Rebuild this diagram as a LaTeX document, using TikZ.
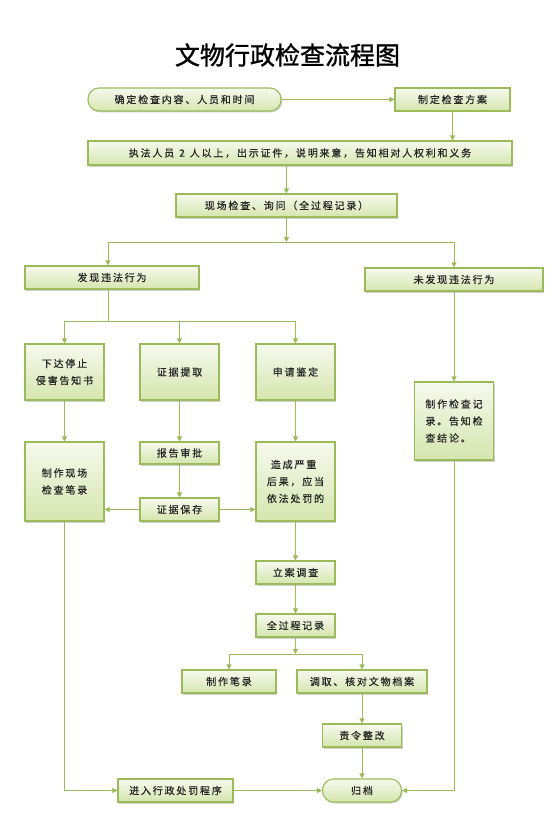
\documentclass[tikz,border=0pt]{standalone}
\usepackage{fontspec}
\setmainfont{Noto Sans CJK SC}
\newfontfamily\cjk[LetterSpace=18,FakeBold=0.6]{Noto Sans CJK SC}
\newfontfamily\cjktitle[FakeBold=1.2]{Noto Sans CJK SC}
\usetikzlibrary{arrows.meta,shadows}
\definecolor{bd}{HTML}{9BBB59}
\definecolor{btop}{HTML}{F6F9EE}
\definecolor{bbot}{HTML}{D5E6AE}
\definecolor{txt}{HTML}{262626}
\begin{document}
\begin{tikzpicture}[x=1pt,y=-1pt,
  box/.style={rectangle, draw=bd, line width=1.1pt, top color=btop, bottom color=bbot,
    drop shadow={shadow xshift=1.2pt, shadow yshift=-1.5pt, opacity=0.3, fill=black!60},
    inner sep=0pt, font=\cjk\fontsize{10}{17}\selectfont, text=txt, align=center},
  rbox/.style={box, rounded corners=11pt},
  sz/.style 2 args={minimum width=#1pt, minimum height=#2pt},
  ln/.style={draw=bd, line width=1pt},
  arr/.style={ln, -{Triangle[width=5pt,length=5pt]}}]
\useasboundingbox (0,0) rectangle (557,824);
\fill[white] (0,0) rectangle (557,824);

\node[font=\cjktitle\fontsize{25}{29}\selectfont, text=black] (title) at (287.5,55) {文物行政检查流程图};

\node[rbox, sz={193}{23}] (n1) at (184.5,99.5) {确定检查内容、人员和时间};
\node[box, sz={115}{23}] (n2) at (452.5,99.5) {制定检查方案};
\node[box, sz={424}{24}] (n3) at (300,153) {执法人员\hspace{5pt}2\hspace{5pt}人以上，出示证件，说明来意，告知相对人权利和义务};
\node[box, sz={221}{23}] (n4) at (286.5,205.5) {现场检查、询问（全过程记录）};
\node[box, sz={174}{23}] (n5) at (112,277.5) {发现违法行为};
\node[box, sz={178}{23}] (n6) at (454,279.5) {未发现违法行为};
\node[box, sz={79}{56}] (n7) at (64.5,372) {下达停止\\侵害告知书};
\node[box, sz={79}{56}] (n8) at (179.5,372) {证据提取};
\node[box, sz={79}{56}] (n9) at (295.5,372) {申请鉴定};
\node[box, sz={79}{79}] (n10) at (64.5,481.5) {制作现场\\检查笔录};
\node[box, sz={79}{22}] (n11) at (179.5,453) {报告审批};
\node[box, sz={79}{23}] (n12) at (179.5,509.5) {证据保存};
\node[box, sz={79}{79}, align=left] (n13) at (295.5,481.5) {\hspace{4pt}造成严重\\后果，应当\\依法处罚的};
\node[box, sz={79}{23}] (n14) at (295.5,572.5) {立案调查};
\node[box, sz={79}{23}] (n15) at (295.5,625.5) {全过程记录};
\node[box, sz={94}{23}] (n16) at (229,681.5) {制作笔录};
\node[box, sz={130}{23}] (n17) at (362,681.5) {调取、核对文物档案};
\node[box, sz={79}{23}] (n18) at (362,735.5) {责令整改};
\node[rbox, sz={79}{23}] (n19) at (362,790.5) {归档};
\node[box, sz={115}{23}] (n20) at (175.5,790.5) {进入行政处罚程序};
\node[box, sz={79}{78}, align=left] (n21) at (454,421) {制作检查记\\录。告知检\\查结论。};

\coordinate (h1) at (0,242);
\coordinate (h2) at (0,321);
\coordinate (h3) at (0,654);
\coordinate (v1) at (108,0);

\draw[arr] (n1) -- (n2);
\draw[arr] (n2.south) -- (n2.south |- n3.north);
\draw[arr] (n4.north |- n3.south) -- (n4.north);
\draw[arr] (n4.south) -- (n4.south |- h1);
\draw[ln] (v1 |- h1) -- (n6.north |- h1);
\draw[arr] (v1 |- h1) -- (v1 |- n5.north);
\draw[arr] (n6.north |- h1) -- (n6.north);

\draw[ln] (v1 |- n5.south) -- (v1 |- h2);
\draw[ln] (n7.north |- h2) -- (n9.north |- h2);
\draw[arr] (n7.north |- h2) -- (n7.north);
\draw[arr] (n8.north |- h2) -- (n8.north);
\draw[arr] (n9.north |- h2) -- (n9.north);

\draw[arr] (n7) -- (n10);
\draw[arr] (n8) -- (n11);
\draw[arr] (n11) -- (n12);
\draw[arr] (n9) -- (n13);
\draw[arr] (n12.west) -- (n12.west -| n10.east);
\draw[arr] (n12.east) -- (n12.east -| n13.west);
\draw[arr] (n13) -- (n14);
\draw[arr] (n14) -- (n15);
\draw[arr] (n15.south) -- (n15.south |- h3);
\draw[ln] (n16.north |- h3) -- (n17.north |- h3);
\draw[arr] (n16.north |- h3) -- (n16.north);
\draw[arr] (n17.north |- h3) -- (n17.north);
\draw[arr] (n17) -- (n18);
\draw[arr] (n18) -- (n19);

\draw[arr] (n6) -- (n21);
\draw[arr] (n10.south) |- (n20.west);
\draw[arr] (n20) -- (n19);
\draw[arr] (n21.south) |- (n19.east);
\end{tikzpicture}
\end{document}
